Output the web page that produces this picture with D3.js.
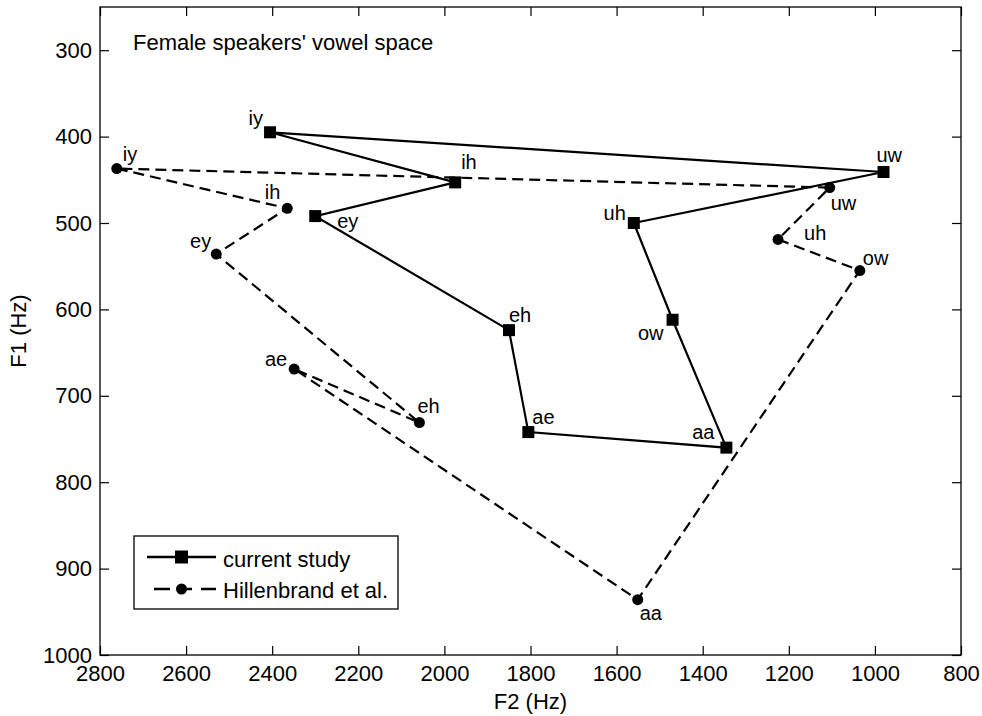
<!DOCTYPE html>
<html>
<head>
<meta charset="utf-8">
<script src="https://cdn.jsdelivr.net/npm/d3@7"></script>
<style>
  html, body { margin: 0; padding: 0; background: #fff; }
  svg { display: block; }
  text { font-family: "Liberation Sans", Arial, Helvetica, sans-serif; fill: #000; }
</style>
</head>
<body>
<svg id="chart" width="982" height="716"></svg>
<script>
// ---- data ----
const vowels = ["iy", "ih", "ey", "eh", "ae", "aa", "ow", "uh", "uw"];
const currentF2 = [2405, 1975, 2300, 1850, 1805, 1345, 1470, 1560, 980];
const currentF1 = [395, 453, 492, 624, 742, 760, 612, 500, 441];
const hillF2 = [2761, 2365, 2530, 2058, 2349, 1551, 1035, 1225, 1105];
const hillF1 = [437, 483, 536, 731, 669, 936, 555, 519, 459];
const xTicks = [2800, 2600, 2400, 2200, 2000, 1800, 1600, 1400, 1200, 1000, 800];
const yTicks = [300, 400, 500, 600, 700, 800, 900, 1000];
const seriesNames = ["current study", "Hillenbrand et al."];
const titleText = "Female speakers' vowel space";
const xLabel = "F2 (Hz)";
const yLabel = "F1 (Hz)";

// ---- layout (pixel offsets of vowel labels relative to markers) ----
const currentLabelLayout = [
  ["end", -7, -7], ["start", 6, -13], ["start", 22, 12], ["start", 0, -8],
  ["start", 4, -8], ["end", -12, -9], ["end", -9, 20], ["end", -8, -3], ["start", -7, -10]
];
const hillLabelLayout = [
  ["start", 6, -8], ["end", -7, -9], ["end", -5, -6], ["start", -2, -10],
  ["end", -7, -3], ["start", 2, 20], ["start", 3, -6], ["start", 26, 1], ["start", 1, 22]
];

const L = 100, R = 961, T = 7, B = 655;
const svg = d3.select("#chart");

const x = d3.scaleLinear().domain([2800, 800]).range([L, R]);
const y = d3.scaleLinear().domain([250, 1000]).range([T, B]);

// axes
const tickFont = "22px";
const gx = svg.append("g").attr("transform", `translate(0,${B})`)
  .call(d3.axisBottom(x).tickValues(xTicks).tickFormat(d3.format("d")).tickSizeInner(-9).tickSizeOuter(0).tickPadding(10));
const gxt = svg.append("g").attr("transform", `translate(0,${T})`)
  .call(d3.axisTop(x).tickValues(xTicks).tickFormat("").tickSizeInner(-9).tickSizeOuter(0));
const gy = svg.append("g").attr("transform", `translate(${L},0)`)
  .call(d3.axisLeft(y).tickValues(yTicks).tickFormat(d3.format("d")).tickSizeInner(-9).tickSizeOuter(0).tickPadding(8));
const gyr = svg.append("g").attr("transform", `translate(${R},0)`)
  .call(d3.axisRight(y).tickValues(yTicks).tickFormat("").tickSizeInner(-9).tickSizeOuter(0));
[gx, gxt, gy, gyr].forEach(g => {
  g.select(".domain").remove();
  g.selectAll(".tick line").attr("stroke", "#000").attr("stroke-width", 1.2);
  g.selectAll(".tick text").style("font-size", tickFont).attr("fill", "#000")
    .style("font-family", '"Liberation Sans", Arial, sans-serif');
});

// box
svg.append("rect").attr("x", L).attr("y", T).attr("width", R - L).attr("height", B - T)
  .attr("fill", "none").attr("stroke", "#000").attr("stroke-width", 1.3);

// axis labels
svg.append("text").attr("x", (L + R) / 2).attr("y", 709).attr("text-anchor", "middle")
  .style("font-size", "22px").text(xLabel);
svg.append("text").attr("transform", `translate(26,${(T + B) / 2}) rotate(-90)`)
  .attr("text-anchor", "middle").style("font-size", "22px").text(yLabel);

// title
svg.append("text").attr("x", 133).attr("y", 50).style("font-size", "22px").text(titleText);

// build series
const current = vowels.map((v, i) => ({ v, f2: currentF2[i], f1: currentF1[i], lay: currentLabelLayout[i] }));
const hill = vowels.map((v, i) => ({ v, f2: hillF2[i], f1: hillF1[i], lay: hillLabelLayout[i] }));

const line = d3.line().x(d => x(d.f2)).y(d => y(d.f1)).curve(d3.curveLinearClosed);

svg.append("path").datum(hill).attr("d", line).attr("fill", "none")
  .attr("stroke", "#000").attr("stroke-width", 2.2).attr("stroke-dasharray", "11,6");
svg.append("path").datum(current).attr("d", line).attr("fill", "none")
  .attr("stroke", "#000").attr("stroke-width", 2.2);

svg.append("g").selectAll("path").data(current).join("path")
  .attr("transform", d => `translate(${x(d.f2)},${y(d.f1)})`)
  .attr("d", d3.symbol(d3.symbolSquare, 144)()).attr("fill", "#000");
svg.append("g").selectAll("circle").data(hill).join("circle")
  .attr("cx", d => x(d.f2)).attr("cy", d => y(d.f1)).attr("r", 5.5).attr("fill", "#000");

function labels(data) {
  svg.append("g").selectAll("text").data(data).join("text")
    .attr("x", d => x(d.f2) + d.lay[1]).attr("y", d => y(d.f1) + d.lay[2])
    .attr("text-anchor", d => d.lay[0]).style("font-size", "20px").text(d => d.v);
}
labels(current);
labels(hill);

// legend
const lg = svg.append("g");
lg.append("rect").attr("x", 134).attr("y", 536).attr("width", 264).attr("height", 73)
  .attr("fill", "#fff").attr("stroke", "#000").attr("stroke-width", 1.3);
lg.append("line").attr("x1", 147).attr("x2", 216).attr("y1", 557).attr("y2", 557)
  .attr("stroke", "#000").attr("stroke-width", 2.6);
lg.append("path").attr("transform", "translate(181.5,557)")
  .attr("d", d3.symbol(d3.symbolSquare, 169)()).attr("fill", "#000");
lg.append("line").attr("x1", 154).attr("x2", 216).attr("y1", 589).attr("y2", 589)
  .attr("stroke", "#000").attr("stroke-width", 2.6).attr("stroke-dasharray", "16,9,13,9,15");
lg.append("circle").attr("cx", 181.5).attr("cy", 589).attr("r", 5.5).attr("fill", "#000");
lg.append("text").attr("x", 223).attr("y", 567).style("font-size", "22px").text(seriesNames[0]);
lg.append("text").attr("x", 223).attr("y", 598).style("font-size", "22px").text(seriesNames[1]);
</script>
</body>
</html>
